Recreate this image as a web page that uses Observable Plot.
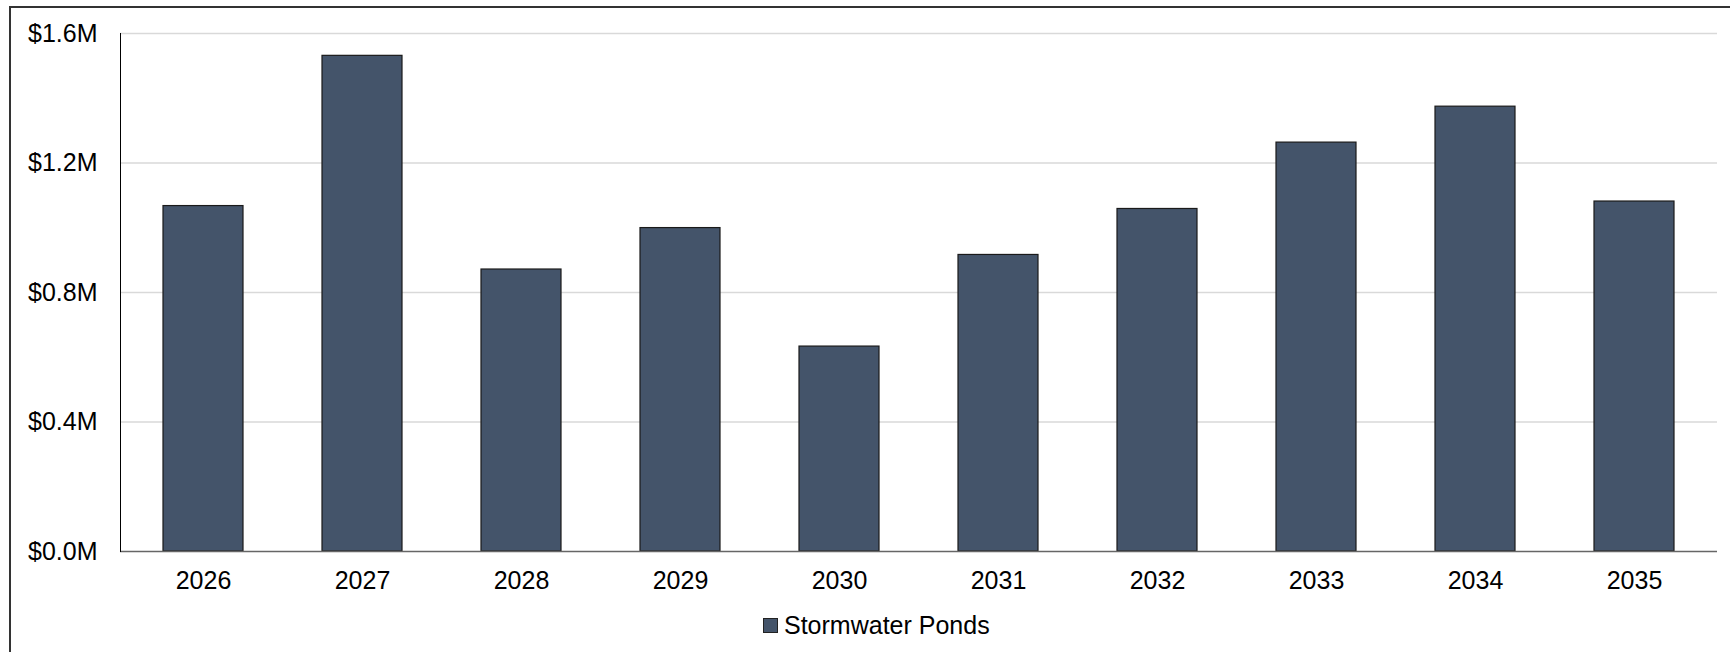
<!DOCTYPE html>
<html>
<head>
<meta charset="utf-8">
<script src="https://cdn.jsdelivr.net/npm/d3@7"></script>
<script src="https://cdn.jsdelivr.net/npm/@observablehq/plot@0.6"></script>
<style>
  html, body { margin: 0; padding: 0; background: #fff; }
  body { width: 1730px; height: 652px; position: relative; overflow: hidden; font-family: "Liberation Sans", Arial, sans-serif; }
  #frame { position: absolute; left: 9px; top: 6px; width: 1730px; height: 700px; border-left: 2px solid #333; border-top: 2px solid #333; box-sizing: border-box; }
  #chart { position: absolute; left: 0; top: 0; }
  #legend { position: absolute; left: 763px; top: 610px; display: flex; align-items: center; font-size: 25px; color: #000; line-height: 30px; }
  #legend .sw { width: 13px; height: 13px; background: #44546A; border: 1px solid #222; margin-right: 6px; }
</style>
</head>
<body>
<div id="frame"></div>
<div id="chart"></div>
<div id="legend"><span class="sw"></span><span>Stormwater Ponds</span></div>
<script>
const years = ["2026","2027","2028","2029","2030","2031","2032","2033","2034","2035"];
const values = [1067000, 1531000, 871000, 999000, 633000, 916000, 1058000, 1263000, 1374000, 1081000];
const yTicks = [0, 400000, 800000, 1200000, 1600000];
const seriesName = "Stormwater Ponds";

const data = years.map((y, i) => ({year: y, value: values[i], series: seriesName}));
const fmt = d => "$" + (d / 1e6).toFixed(1) + "M";

const chart = Plot.plot({
  width: 1730,
  height: 600,
  marginLeft: 120,
  marginRight: 13,
  marginTop: 33,
  marginBottom: 49,
  style: {fontFamily: "'Liberation Sans', Arial, sans-serif", fontSize: "25px", color: "#000", background: "transparent", overflow: "visible"},
  x: {domain: years, paddingInner: 0.5, paddingOuter: 0.25, label: null},
  y: {domain: [0, 1600000], label: null},
  marks: [
    Plot.gridY(yTicks.filter(d => d > 0), {stroke: "#d9d9d9", strokeOpacity: 1, strokeWidth: 1.5}),
    Plot.barY(data, {x: "year", y: "value", fill: "#44546A", stroke: "#1a1a1a", strokeWidth: 1.2}),
    Plot.ruleY([0], {stroke: "#666", strokeWidth: 1.5}),
    Plot.frame({anchor: "left", stroke: "#000", strokeWidth: 1}),
    Plot.axisX({tickSize: 0, tickPadding: 20, label: null, fontSize: 25}),
    Plot.axisY({ticks: yTicks, tickFormat: fmt, tickSize: 0, tickPadding: 23, label: null, fontSize: 25})
  ]
});
document.getElementById("chart").appendChild(chart);
</script>
</body>
</html>
